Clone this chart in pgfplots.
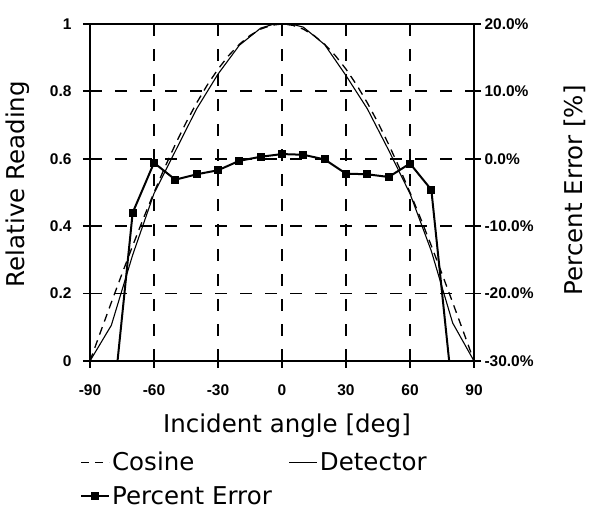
\documentclass[border=0pt]{standalone}
\usepackage{fontspec}
\setmainfont{DejaVu Sans}
\newfontfamily\tickfont{Liberation Sans}
\usepackage{pgfplots}
\pgfplotsset{compat=1.18}
\usepackage{pgfplotstable}

\pgfplotstableread{
ang cos
-90 0
-85 0.0872
-80 0.1736
-75 0.2588
-70 0.3420
-65 0.4226
-60 0.5000
-55 0.5736
-50 0.6428
-45 0.7071
-40 0.7660
-35 0.8192
-30 0.8660
-25 0.9063
-20 0.9397
-15 0.9659
-10 0.9848
-5 0.9962
0 1.0000
5 0.9962
10 0.9848
15 0.9659
20 0.9397
25 0.9063
30 0.8660
35 0.8192
40 0.7660
45 0.7071
50 0.6428
55 0.5736
60 0.5000
65 0.4226
70 0.3420
75 0.2588
80 0.1736
85 0.0872
90 0
}\cosdata

\pgfplotstableread{
ang det
-90 0
-80 0.1059
-70 0.3146
-60 0.4970
-50 0.6229
-40 0.7484
-30 0.8513
-20 0.9369
-10 0.9878
0 1.0070
10 0.9907
20 0.9388
30 0.8469
40 0.7484
50 0.6254
60 0.4965
70 0.3263
80 0.1128
90 0
}\detdata

\pgfplotstableread{
ang err
-80 -39
-70 -8.0
-60 -0.6
-50 -3.1
-40 -2.3
-30 -1.7
-20 -0.3
-10 0.3
0 0.7
10 0.6
20 -0.1
30 -2.2
40 -2.3
50 -2.7
60 -0.7
70 -4.6
80 -35
}\errdata

\newcommand{\labfont}{\fontsize{24.5}{28}\selectfont}
\newcommand{\tfont}{\tickfont\bfseries\fontsize{15.5}{17}\selectfont}

\begin{document}
\begin{tikzpicture}
\useasboundingbox (0pt,0pt) rectangle (589pt,513pt);
\begin{axis}[
  at={(90pt,152pt)}, anchor=south west,
  scale only axis, width=384pt, height=337pt,
  xmin=-90, xmax=90, ymin=0, ymax=1,
  xtick={-90,-60,-30,0,30,60,90},
  ytick={0,0.2,0.4,0.6,0.8,1},
  xtick pos=bottom, ytick pos=left,
  tick align=outside, major tick length=7pt,
  tick style={line width=1.8pt, black},
  axis line style={line width=2pt},
  grid=major,
  major grid style={line width=1.8pt, black, dash pattern=on 12pt off 13pt},
  /pgf/number format/assume math mode=true,
  tick label style={font=\tfont},
  xticklabel style={yshift=-13pt},
  yticklabel style={xshift=-8pt},
  xlabel={Incident angle [deg]},
  ylabel={Relative Reading},
  label style={font=\labfont},
  xlabel style={at={(axis description cs:0.513,-0.2107)}, anchor=base},
  ylabel style={at={(axis description cs:-0.1875,0.525)}, anchor=center},
  legend columns=2,
  legend cell align=left,
  legend style={draw=none, fill=none, font=\labfont,
    at={(axis description cs:-0.034,-0.258)}, anchor=north west,
    row sep=10pt,
    /tikz/every even column/.append style={column sep=15pt}},
  legend image code/.code={\draw[mark repeat=2,mark phase=2,#1] plot coordinates {(0pt,0pt) (14pt,0pt) (28pt,0pt)};},
]
\addplot[black, line width=1.3pt, dash pattern=on 8pt off 6pt] table[x=ang,y=cos] {\cosdata};
\addlegendentry{Cosine}
\addplot[black, line width=1.1pt] table[x=ang,y=det] {\detdata};
\addlegendentry{Detector}
\addlegendimage{black, line width=2pt, mark=square*, mark size=3pt}
\addlegendentry{Percent Error}
\end{axis}
\begin{axis}[
  at={(90pt,152pt)}, anchor=south west,
  scale only axis, width=384pt, height=337pt,
  xmin=-90, xmax=90, ymin=-30, ymax=20,
  hide x axis,
  axis y line*=right,
  ytick={-30,-20,-10,0,10,20},
  tick align=outside, major tick length=7pt,
  tick style={line width=1.8pt, black},
  axis line style={line width=2pt},
  /pgf/number format/assume math mode=true,
  tick label style={font=\tfont},
  yticklabel={\pgfmathprintnumber[fixed,fixed zerofill,precision=1]{\tick}\%},
  ylabel={Percent Error [\%]},
  label style={font=\labfont},
  ylabel style={at={(axis description cs:1.263,0.507)}, anchor=center},
]
\addplot[black, line width=2pt, mark=square*, mark size=3pt] table[x=ang,y=err] {\errdata};
\end{axis}
\end{tikzpicture}
\end{document}
